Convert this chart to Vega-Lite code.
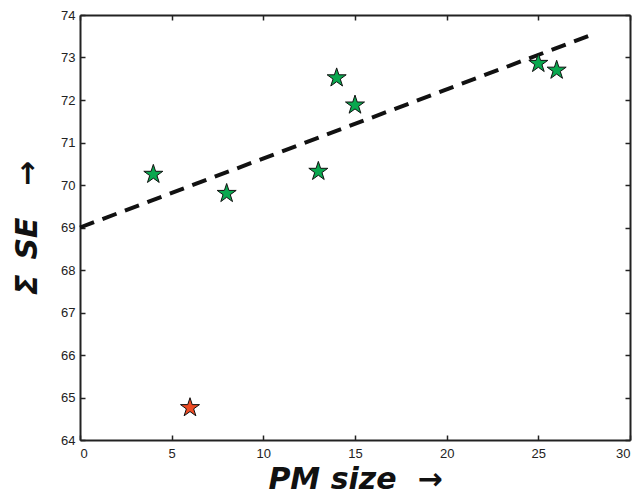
{
  "$schema": "https://vega.github.io/schema/vega-lite/v6.json",
  "width": 550,
  "height": 425,
  "autosize": "none",
  "padding": {"left": 80, "top": 15, "right": 9, "bottom": 60},
  "background": "white",
  "config": {
    "view": {"stroke": null},
    "axis": {
      "domainColor": "#222222",
      "domainWidth": 2,
      "tickColor": "#222222",
      "tickWidth": 1.5,
      "tickSize": -5,
      "grid": false,
      "labelFont": "Liberation Sans",
      "labelFontSize": 13,
      "labelColor": "#222222",
      "titleFont": "DejaVu Sans",
      "titleFontWeight": "bold",
      "titleFontStyle": "italic",
      "titleColor": "#111111",
      "titleFontSize": 30
    }
  },
  "datasets": {
    "pts": [
      {"pm": 4, "se": 70.25, "group": "normal"},
      {"pm": 8, "se": 69.8, "group": "normal"},
      {"pm": 13, "se": 70.32, "group": "normal"},
      {"pm": 14, "se": 72.52, "group": "normal"},
      {"pm": 15, "se": 71.88, "group": "normal"},
      {"pm": 25, "se": 72.86, "group": "normal"},
      {"pm": 26, "se": 72.7, "group": "normal"},
      {"pm": 6, "se": 64.76, "group": "outlier"}
    ],
    "fit": [
      {"pm": 0, "se": 69.0},
      {"pm": 28, "se": 73.55}
    ]
  },
  "layer": [
    {
      "data": {"name": "fit"},
      "mark": {"type": "line", "color": "#111111", "strokeWidth": 4, "strokeDash": [15, 9]},
      "encoding": {
        "x": {"field": "pm", "type": "quantitative", "scale": {"domain": [0, 30], "nice": false},
          "axis": {"orient": "top", "labels": false, "title": null, "values": [0,5,10,15,20,25,30]}},
        "y": {"field": "se", "type": "quantitative", "scale": {"domain": [64, 74], "nice": false, "zero": false},
          "axis": {"orient": "right", "labels": false, "title": null, "values": [64,65,66,67,68,69,70,71,72,73,74]}}
      }
    },
    {
      "data": {"name": "pts"},
      "mark": {"type": "point", "shape": "M0,-1L0.2245,-0.309L0.951,-0.309L0.363,0.118L0.588,0.809L0,0.382L-0.588,0.809L-0.363,0.118L-0.951,-0.309L-0.2245,-0.309Z", "size": 400, "filled": true, "stroke": "#111111", "strokeWidth": 1, "opacity": 1},
      "encoding": {
        "x": {"field": "pm", "type": "quantitative", "scale": {"domain": [0, 30], "nice": false},
          "axis": {"orient": "bottom", "title": "PM size\u00a0\u00a0→", "values": [0,5,10,15,20,25,30], "labelPadding": 12, "titlePadding": 4}},
        "y": {"field": "se", "type": "quantitative", "scale": {"domain": [64, 74], "nice": false, "zero": false},
          "axis": {"orient": "left", "title": "Σ\u2002SE\u00a0\u00a0\u00a0→", "values": [64,65,66,67,68,69,70,71,72,73,74], "labelPadding": 10, "titlePadding": 18}},
        "fill": {"field": "group", "type": "nominal", "scale": {"domain": ["normal", "outlier"], "range": ["#0aa84f", "#ee4b24"]}, "legend": null}
      }
    }
  ],
  "resolve": {"axis": {"x": "independent", "y": "independent"}}
}
